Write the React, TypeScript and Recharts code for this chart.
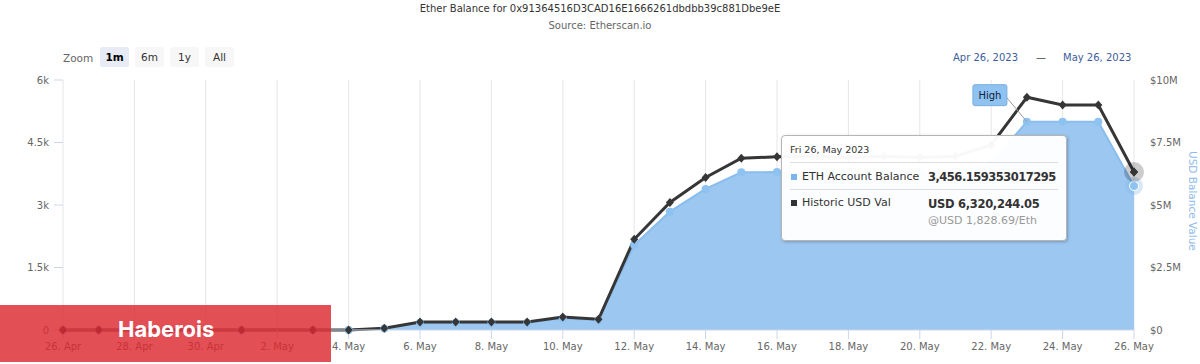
import React from 'react';
import { ComposedChart, Area, Line, XAxis, YAxis, CartesianGrid, Tooltip, ReferenceDot } from 'recharts';

const FONT = '"DejaVu Sans", Verdana, sans-serif';

const chartTitle = 'Ether Balance for 0x91364516D3CAD16E1666261dbdbb39c881Dbe9eE';
const chartSubtitle = 'Source: Etherscan.io';
const seriesNames = ['ETH Account Balance', 'Historic USD Val'];
const zoomButtons = ['1m', '6m', '1y', 'All'];
const rangeLabels = ['Apr 26, 2023', 'May 26, 2023'];
const rightAxisTitle = 'USD Balance Value';
const overlayText = 'Haberois';

const dates = [
  '2023-04-26', '2023-04-27', '2023-04-29', '2023-05-01', '2023-05-03', '2023-05-04',
  '2023-05-05', '2023-05-06', '2023-05-07', '2023-05-08', '2023-05-09', '2023-05-10',
  '2023-05-11', '2023-05-12', '2023-05-13', '2023-05-14', '2023-05-15', '2023-05-16',
  '2023-05-17', '2023-05-18', '2023-05-19', '2023-05-20', '2023-05-21', '2023-05-22',
  '2023-05-23', '2023-05-24', '2023-05-25', '2023-05-26',
];
const ethBalance = [
  0, 0, 0, 0, 0, 0,
  37, 172, 172, 172, 172, 280,
  235, 2040, 2840, 3385, 3785, 3790,
  3790, 3790, 3790, 3790, 3790, 4000,
  5000, 5000, 5000, 3456.159353017295,
];
const usdValue = [
  0, 0, 0, 0, 0, 0,
  70000, 320000, 320000, 320000, 320000, 520000,
  430000, 3630000, 5100000, 6100000, 6870000, 6930000,
  6950000, 6900000, 6950000, 6900000, 6950000, 7400000,
  9310000, 9000000, 9000000, 6320244.05,
];

const xTickLabels = [
  '26. Apr', '28. Apr', '30. Apr', '2. May', '4. May', '6. May', '8. May', '10. May',
  '12. May', '14. May', '16. May', '18. May', '20. May', '22. May', '24. May', '26. May',
];
const leftTicks = [0, 1500, 3000, 4500, 6000];
const leftTickLabels = ['0', '1.5k', '3k', '4.5k', '6k'];
const rightTicks = [0, 2500000, 5000000, 7500000, 10000000];
const rightTickLabels = ['$0', '$2.5M', '$5M', '$7.5M', '$10M'];
const highDate = '2023-05-23';
const highLabel = 'High';

const DAY = 86400000;
const t0 = Date.parse(dates[0] + 'T00:00:00Z');
const data = dates.map((d, i) => ({
  x: (Date.parse(d + 'T00:00:00Z') - t0) / DAY,
  date: d,
  eth: ethBalance[i],
  usd: usdValue[i],
}));
const xTicks = xTickLabels.map((_, i) => i * 2);
const highIdx = dates.indexOf(highDate);

const BLUE_FILL = '#9cc7f0';
const BLUE_LINE = '#88bdee';
const DARK = '#363636';

const fmtEth = (v: number) => {
  const s = String(v);
  const [ip, fp] = s.split('.');
  const withCommas = ip.replace(/\B(?=(\d{3})+(?!\d))/g, ',');
  return fp ? withCommas + '.' + fp : withCommas;
};
const fmt2 = (v: number) => v.toLocaleString('en-US', { minimumFractionDigits: 2, maximumFractionDigits: 2 });
const WD = ['Sun', 'Mon', 'Tue', 'Wed', 'Thu', 'Fri', 'Sat'];
const MO = ['Jan', 'Feb', 'Mar', 'Apr', 'May', 'Jun', 'Jul', 'Aug', 'Sep', 'Oct', 'Nov', 'Dec'];
const fmtDate = (d: string) => {
  const dt = new Date(d + 'T00:00:00Z');
  return `${WD[dt.getUTCDay()]} ${dt.getUTCDate()}, ${MO[dt.getUTCMonth()]} ${dt.getUTCFullYear()}`;
};

const Diamond = (props: any) => {
  const { cx, cy } = props;
  if (cx == null || cy == null) return null;
  return <path d={`M${cx},${cy - 4.5}L${cx + 4},${cy}L${cx},${cy + 4.5}L${cx - 4},${cy}Z`} fill={DARK} />;
};
const ActiveDiamond = (props: any) => {
  const { cx, cy } = props;
  if (cx == null || cy == null) return null;
  return (
    <g>
      <circle cx={cx} cy={cy} r={10} fill="rgba(0,0,0,0.2)" />
      <path d={`M${cx},${cy - 4.5}L${cx + 4},${cy}L${cx},${cy + 4.5}L${cx - 4},${cy}Z`} fill={DARK} />
    </g>
  );
};
const BlueDot = (props: any) => {
  const { cx, cy } = props;
  if (cx == null || cy == null) return null;
  return <circle cx={cx} cy={cy} r={4} fill="#8ec2f0" />;
};
const ActiveBlueDot = (props: any) => {
  const { cx, cy } = props;
  if (cx == null || cy == null) return null;
  return (
    <g>
      <circle cx={cx} cy={cy} r={9} fill="rgba(124,181,236,0.3)" />
      <circle cx={cx} cy={cy} r={4.5} fill="#8ec2f0" stroke="#ffffff" strokeWidth={1} />
    </g>
  );
};

const HighFlag = (props: any) => {
  const { cx, cy } = props;
  if (cx == null || cy == null) return null;
  return (
    <g>
      <line x1={cx - 21} y1={cy - 25} x2={cx} y2={cy} stroke="#9a9a9a" strokeWidth={1} />
      <rect x={cx - 54} y={cy - 37} width={34} height={21} rx={2} fill="#8ec2f0" stroke="#7aaee0" strokeWidth={1} />
      <text x={cx - 37} y={cy - 23} textAnchor="middle" fontSize={10} fontFamily={FONT} fill="#10203a">{highLabel}</text>
    </g>
  );
};

const TipContent = (props: any) => {
  const { active, payload } = props;
  if (!active || !payload || !payload.length) return null;
  const row = payload[0].payload;
  const price = row.usd / row.eth;
  const abs = (o: any) => ({ position: 'absolute' as const, whiteSpace: 'nowrap' as const, ...o });
  return (
    <div style={{
      position: 'relative', width: 284, height: 104, background: 'rgba(255,255,255,0.97)',
      border: '1px solid #b5b5b5', borderRadius: 4, boxShadow: '1px 1px 3px rgba(0,0,0,0.25)',
      fontFamily: FONT, color: '#333',
    }}>
      <div style={abs({ left: 8, top: 8, fontSize: 9.5, lineHeight: '12px' })}>{fmtDate(row.date)}</div>
      <div style={abs({ left: 8, right: 8, top: 26, height: 1, background: '#dddddd' })} />
      <div style={abs({ left: 9, top: 38, width: 6, height: 6, background: '#7cb5ec' })} />
      <div style={abs({ left: 20, top: 34, fontSize: 11, lineHeight: '14px' })}>{seriesNames[0]}</div>
      <div style={abs({ left: 146, top: 34, fontSize: 11.5, fontWeight: 'bold', lineHeight: '15px', letterSpacing: -0.5 })}>{fmtEth(row.eth)}</div>
      <div style={abs({ left: 8, right: 8, top: 53, height: 1, background: '#dddddd' })} />
      <div style={abs({ left: 9, top: 64, width: 6, height: 6, background: '#333' })} />
      <div style={abs({ left: 20, top: 60, fontSize: 11, lineHeight: '14px' })}>{seriesNames[1]}</div>
      <div style={abs({ left: 146, top: 61, fontSize: 11.5, fontWeight: 'bold', lineHeight: '15px', letterSpacing: -0.3 })}>USD {fmt2(row.usd)}</div>
      <div style={abs({ left: 146, top: 78, fontSize: 11, color: '#999', lineHeight: '14px' })}>@USD {fmt2(price)}/Eth</div>
    </div>
  );
};

export default function App() {
  return (
    <div style={{ position: 'absolute', left: 0, top: 0, width: 1200, height: 364, background: '#fff', fontFamily: FONT, overflow: 'hidden' }}>
      <div style={{ position: 'absolute', left: 0, top: 2, width: 1200, textAlign: 'center', fontSize: 10, color: '#333', lineHeight: '14px' }}>{chartTitle}</div>
      <div style={{ position: 'absolute', left: 0, top: 19, width: 1200, textAlign: 'center', fontSize: 10, color: '#666', lineHeight: '14px' }}>{chartSubtitle}</div>

      <div style={{ position: 'absolute', left: 63, top: 51, fontSize: 10.5, color: '#666', lineHeight: '14px' }}>Zoom</div>
      {zoomButtons.map((b, i) => (
        <div key={b} style={{
          position: 'absolute', left: 100 + i * 35, top: 47, width: 29, height: 20,
          background: i === 0 ? '#e6ebf5' : '#f7f7f7', borderRadius: 2,
          fontSize: 10.5, lineHeight: '20px', textAlign: 'center',
          color: i === 0 ? '#000' : '#333', fontWeight: i === 0 ? 'bold' : 'normal',
        }}>{b}</div>
      ))}

      <div style={{ position: 'absolute', left: 953, top: 51, fontSize: 10, color: '#3e5e9c', lineHeight: '14px' }}>{rangeLabels[0]}</div>
      <div style={{ position: 'absolute', left: 1036, top: 51, fontSize: 10, color: '#444', lineHeight: '14px' }}>—</div>
      <div style={{ position: 'absolute', left: 1063, top: 51, fontSize: 10, color: '#3e5e9c', lineHeight: '14px' }}>{rangeLabels[1]}</div>

      <div style={{ position: 'absolute', left: 0, top: 0 }}>
        <ComposedChart width={1200} height={364} data={data} margin={{ top: 80, right: 0, bottom: 0, left: 0 }}>
          <CartesianGrid horizontal={false} stroke="#e6e6e6" />
          <XAxis
            dataKey="x" type="number" domain={[0, 30]} ticks={xTicks} height={34}
            tickFormatter={(v: number) => xTickLabels[Math.round(v / 2)]}
            tick={{ fontSize: 10, fill: '#666', fontFamily: FONT }}
            tickLine={{ stroke: '#ccd6eb' }} tickSize={9} tickMargin={4}
            axisLine={{ stroke: '#ccd6eb' }} interval={0}
          />
          <YAxis
            yAxisId="eth" orientation="left" width={63} domain={[0, 6000]} ticks={leftTicks}
            tickFormatter={(v: number) => leftTickLabels[leftTicks.indexOf(v)]}
            tick={{ fontSize: 10, fill: '#666', fontFamily: FONT }}
            tickLine={{ stroke: '#ccd6eb' }} tickSize={9} tickMargin={5} axisLine={false}
          />
          <YAxis
            yAxisId="usd" orientation="right" width={66} domain={[0, 10000000]} ticks={rightTicks}
            tickFormatter={(v: number) => rightTickLabels[rightTicks.indexOf(v)]}
            tick={{ fontSize: 10, fill: '#666', fontFamily: FONT, textAnchor: 'start' }}
            tickLine={false} tickSize={8} tickMargin={8} axisLine={false}
          />
          <Area
            yAxisId="eth" dataKey="eth" type="linear" fill={BLUE_FILL} fillOpacity={1}
            stroke={BLUE_LINE} strokeWidth={2} dot={<BlueDot />} activeDot={<ActiveBlueDot />}
            isAnimationActive={false}
          />
          <Line
            yAxisId="usd" dataKey="usd" type="linear" stroke={DARK} strokeWidth={3}
            dot={<Diamond />} activeDot={<ActiveDiamond />} isAnimationActive={false}
          />
          <ReferenceDot yAxisId="eth" x={data[highIdx].x} y={data[highIdx].eth} shape={<HighFlag />} />
          <Tooltip
            defaultIndex={data.length - 1} active={true} position={{ x: 781, y: 135 }} cursor={false}
            content={<TipContent />} isAnimationActive={false} wrapperStyle={{ outline: 'none', zIndex: 5 }}
          />
        </ComposedChart>
      </div>

      <div style={{
        position: 'absolute', left: 1186, top: 151, writingMode: 'vertical-rl', fontSize: 10.5,
        color: '#8ebbea', lineHeight: '13px', whiteSpace: 'nowrap',
      }}>{rightAxisTitle}</div>

      <div style={{ position: 'absolute', left: 0, top: 305, width: 331, height: 57, background: 'rgba(220,40,48,0.82)', zIndex: 10 }}>
        <div style={{
          position: 'absolute', left: 118, top: 11, fontFamily: 'Inter, Roboto, sans-serif', fontWeight: 700,
          fontSize: 22, color: '#fff', lineHeight: '27px', whiteSpace: 'nowrap',
        }}>{overlayText}</div>
      </div>
    </div>
  );
}
